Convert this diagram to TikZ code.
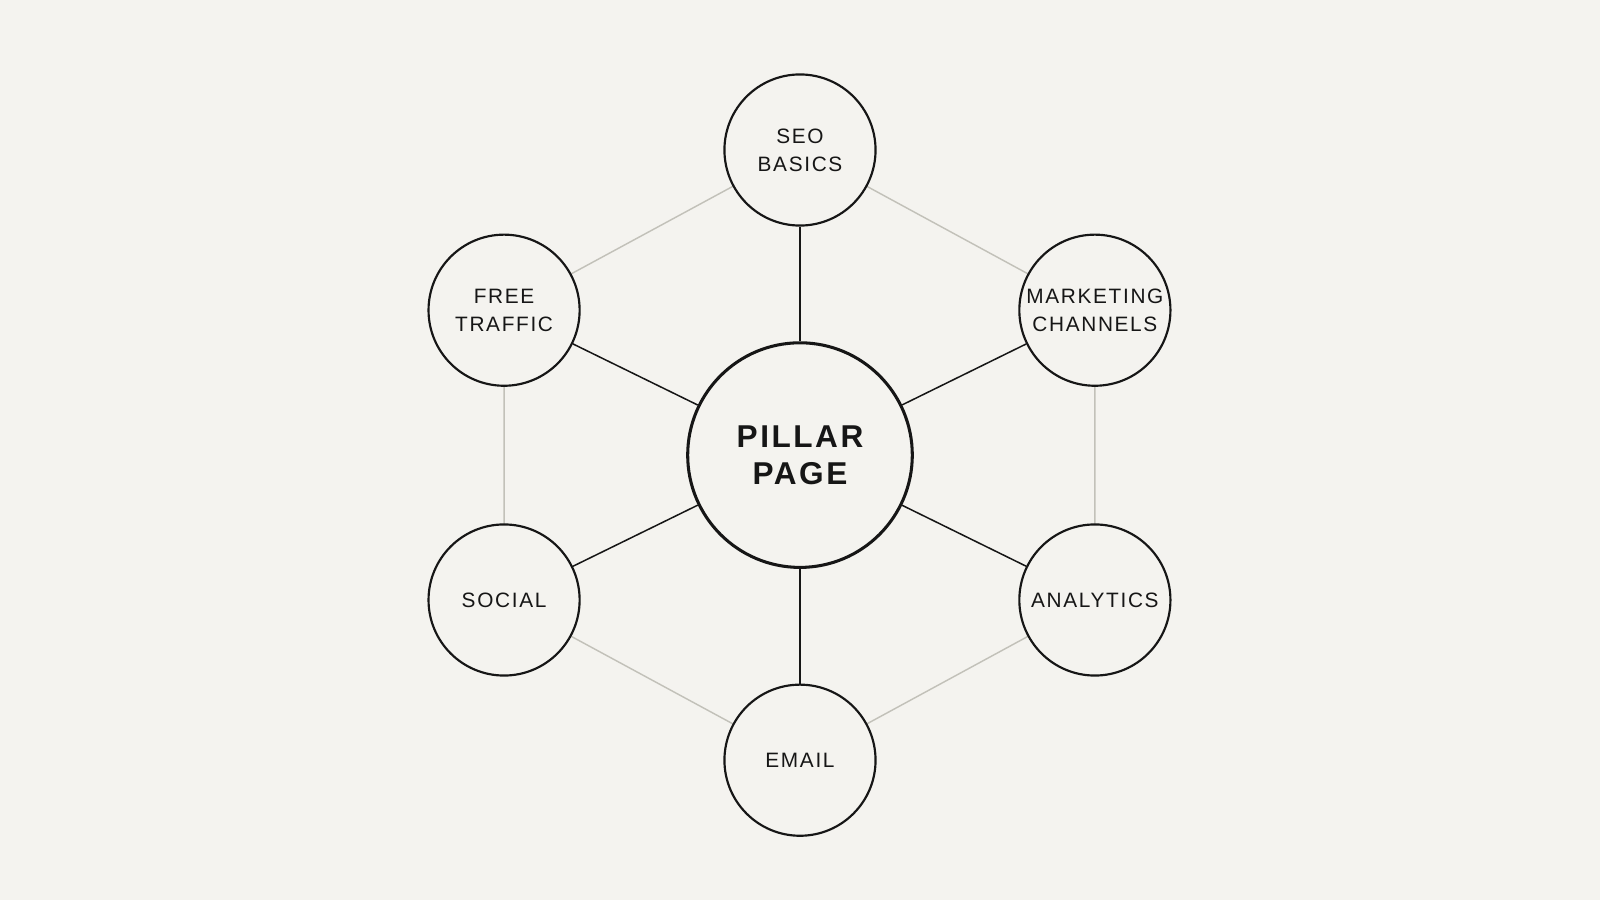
\documentclass[tikz,border=0pt]{standalone}
\usepackage{fontspec}
\setmainfont{Liberation Sans}[LetterSpace=8]
\definecolor{paper}{HTML}{F4F3EF}
\definecolor{ink}{HTML}{161616}
\definecolor{rim}{HTML}{C2C1B9}
\begin{document}
\begin{tikzpicture}[x=0.01cm,y=-0.01cm,
  hub/.style={circle,draw=ink,line width=0.85pt,fill=paper,minimum size=2.2cm,inner sep=0pt,align=center,
    font=\fontsize{8.8}{10.2}\selectfont\bfseries,text=ink},
  spoke/.style={circle,draw=ink,line width=0.6pt,fill=paper,minimum size=1.48cm,inner sep=0pt,align=center,
    font=\fontsize{5.8}{7.8}\selectfont,text=ink},
  link/.style={draw=ink,line width=0.42pt},
  ring/.style={draw=rim,line width=0.4pt}]
\fill[paper] (0,0) rectangle (1568,882);
\useasboundingbox (0,0) rectangle (1568,882);

% ring lines first
\coordinate (ps) at (784,147);
\coordinate (pf) at (494,304);
\coordinate (pm) at (1073,304);
\coordinate (pso) at (494,588);
\coordinate (pa) at (1073,588);
\coordinate (pe) at (784,745);
\draw[ring] (ps) -- (pm) -- (pa) -- (pe) -- (pso) -- (pf) -- cycle;

\node[hub] (pillar) at (784,446) {PILLAR\\PAGE};
\node[spoke] (seo) at (ps) {SEO\\BASICS};
\node[spoke] (free) at (pf) {FREE\\TRAFFIC};
\node[spoke] (mkt) at (pm) {MARKETING\\CHANNELS};
\node[spoke] (social) at (pso) {SOCIAL};
\node[spoke] (analytics) at (pa) {ANALYTICS};
\node[spoke] (email) at (pe) {EMAIL};

\foreach \n in {seo,free,mkt,social,analytics,email}
  \draw[link] (pillar) -- (\n);
\end{tikzpicture}
\end{document}
